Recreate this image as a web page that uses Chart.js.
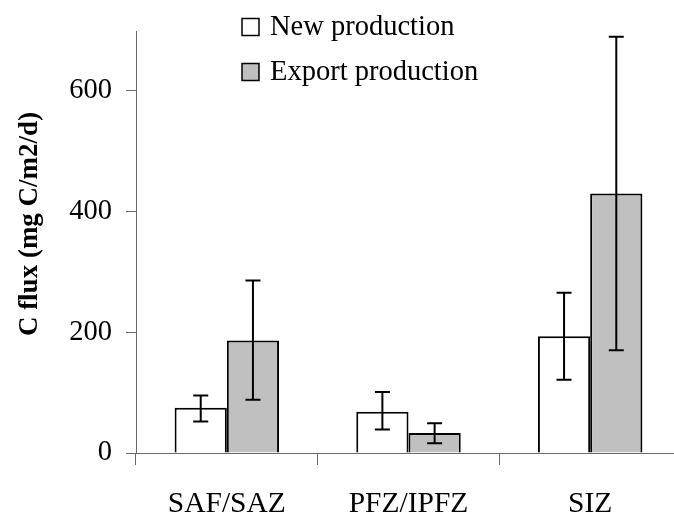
<!DOCTYPE html>
<html>
<head>
<meta charset="utf-8">
<script src="https://cdn.jsdelivr.net/npm/chart.js@4"></script>
<style>
html, body { margin:0; padding:0; overflow:hidden; background:#fff; }
#wrap { width:681px; height:515px; }
</style>
</head>
<body>
<div id="wrap"><canvas id="c" width="681" height="515"></canvas></div>
<script>
const categories = ['SAF/SAZ', 'PFZ/IPFZ', 'SIZ'];
const seriesNames = ['New production', 'Export production'];
const newProd = [75, 68, 193];
const newLow = [52, 39, 121];
const newHigh = [95, 101, 265];
const exportProd = [186, 33, 429];
const exportLow = [88, 16, 170];
const exportHigh = [285, 49, 688];
const yTicks = [0, 200, 400, 600];
const yTitle = 'C flux (mg C/m2/d)';

const errLow = [newLow, exportLow];
const errHigh = [newHigh, exportHigh];
const fills = ['#ffffff', '#c0c0c0'];
const AXIS = '#6a6a6a';
const SERIF = '"Liberation Serif", "Times New Roman", serif';

const errorBars = {
  id: 'errorBars',
  afterDatasetsDraw(chart) {
    const ctx = chart.ctx;
    const ys = chart.scales.y;
    ctx.save();
    ctx.strokeStyle = '#000';
    ctx.lineWidth = 2;
    chart.data.datasets.forEach((ds, di) => {
      const meta = chart.getDatasetMeta(di);
      meta.data.forEach((bar, i) => {
        const x = bar.x;
        const y1 = ys.getPixelForValue(errLow[di][i]);
        const y2 = ys.getPixelForValue(errHigh[di][i]);
        const hw = 7.5;
        ctx.beginPath();
        ctx.moveTo(x, y1); ctx.lineTo(x, y2);
        ctx.moveTo(x - hw, y1); ctx.lineTo(x + hw, y1);
        ctx.moveTo(x - hw, y2); ctx.lineTo(x + hw, y2);
        ctx.stroke();
      });
    });
    ctx.restore();
  }
};

const extras = {
  id: 'extras',
  afterDraw(chart) {
    const ctx = chart.ctx;
    ctx.save();
    // legend
    ctx.font = '28.5px ' + SERIF;
    ctx.textBaseline = 'middle';
    ctx.textAlign = 'left';
    const rows = [27, 72];
    chart.data.datasets.forEach((ds, di) => {
      const cy = rows[di];
      ctx.fillStyle = ds.backgroundColor;
      ctx.fillRect(242, cy - 8.5, 17, 17);
      ctx.strokeStyle = '#000';
      ctx.lineWidth = 1.5;
      ctx.strokeRect(242, cy - 8.5, 17, 17);
      ctx.fillStyle = '#000';
      ctx.fillText(ds.label, 270, cy + 1);
    });
    // y title
    ctx.translate(30, 224);
    ctx.rotate(-Math.PI / 2);
    ctx.font = 'bold 27px ' + SERIF;
    ctx.textAlign = 'center';
    ctx.textBaseline = 'middle';
    ctx.fillStyle = '#000';
    ctx.fillText(yTitle, 0, 0);
    ctx.restore();
  }
};

new Chart(document.getElementById('c'), {
  type: 'bar',
  data: {
    labels: categories,
    datasets: [
      { label: seriesNames[0], data: newProd, backgroundColor: fills[0], borderColor: '#000', borderWidth: 2 },
      { label: seriesNames[1], data: exportProd, backgroundColor: fills[1], borderColor: '#000', borderWidth: 2 }
    ]
  },
  options: {
    responsive: false,
    animation: false,
    events: [],
    layout: { padding: { top: 27, left: 0, right: 0, bottom: 0 } },
    datasets: { bar: { categoryPercentage: 0.575, barPercentage: 1.0 } },
    plugins: { legend: { display: false }, tooltip: { enabled: false } },
    scales: {
      x: {
        offset: true,
        grid: { offset: true, drawOnChartArea: false, drawTicks: true, tickLength: 12, color: AXIS, lineWidth: 1 },
        border: { display: true, color: AXIS, width: 1 },
        ticks: { color: '#000', font: { family: SERIF, size: 29.5 }, padding: 22, maxRotation: 0 },
        afterFit(s) { s.height = 62; }
      },
      y: {
        min: 0,
        max: 697.5,
        grid: { drawOnChartArea: false, drawTicks: true, tickLength: 10, color: AXIS, lineWidth: 1 },
        border: { display: true, color: AXIS, width: 1 },
        ticks: { stepSize: 200, color: '#000', font: { family: SERIF, size: 28.5 }, padding: 14 },
        afterBuildTicks(s) { s.ticks = yTicks.map(v => ({ value: v })); },
        afterFit(s) { s.width = 136; }
      }
    }
  },
  plugins: [errorBars, extras]
});
</script>
</body>
</html>
